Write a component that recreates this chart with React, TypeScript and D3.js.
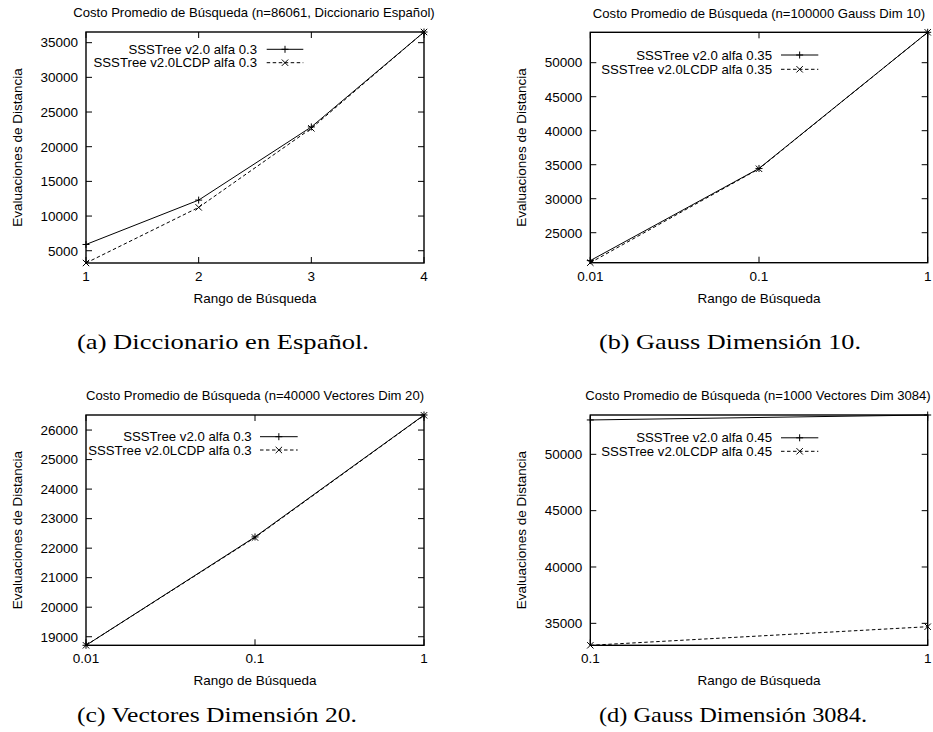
import React from "react";
import * as d3 from "d3";

const W = 933;
const H = 732;

// ---- data ----
const aX = [1, 2, 3, 4];
const aS1 = [5900, 12300, 22850, 36540];
const aS2 = [3230, 11250, 22650, 36540];
const aYTicks = [5000, 10000, 15000, 20000, 25000, 30000, 35000];
const aXTicks = [1, 2, 3, 4];

const bX = [0.01, 0.1, 1];
const bS1 = [20900, 34450, 54470];
const bS2 = [20590, 34400, 54470];
const bYTicks = [25000, 30000, 35000, 40000, 45000, 50000];
const bXTicks = [0.01, 0.1, 1];

const cX = [0.01, 0.1, 1];
const cS1 = [18710, 22380, 26510];
const cS2 = [18710, 22360, 26500];
const cYTicks = [19000, 20000, 21000, 22000, 23000, 24000, 25000, 26000];
const cXTicks = [0.01, 0.1, 1];

const dX = [0.1, 1];
const dS1 = [53050, 53490];
const dS2 = [33050, 34700];
const dYTicks = [35000, 40000, 45000, 50000];
const dXTicks = [0.1, 1];

const titles = [
  "Costo Promedio de Búsqueda (n=86061, Diccionario Español)",
  "Costo Promedio de Búsqueda (n=100000 Gauss Dim 10)",
  "Costo Promedio de Búsqueda (n=40000 Vectores Dim 20)",
  "Costo Promedio de Búsqueda (n=1000 Vectores Dim 3084)",
];
const legend1 = ["SSSTree v2.0 alfa 0.3", "SSSTree v2.0 alfa 0.35", "SSSTree v2.0 alfa 0.3", "SSSTree v2.0 alfa 0.45"];
const legend2 = ["SSSTree v2.0LCDP alfa 0.3", "SSSTree v2.0LCDP alfa 0.35", "SSSTree v2.0LCDP alfa 0.3", "SSSTree v2.0LCDP alfa 0.45"];
const captions = [
  "(a) Diccionario en Español.",
  "(b) Gauss Dimensión 10.",
  "(c) Vectores Dimensión 20.",
  "(d) Gauss Dimensión 3084.",
];
const xLabel = "Rango de Búsqueda";
const yLabel = "Evaluaciones de Distancia";

const SANS = "'Liberation Sans', Arial, sans-serif";
const SERIF = "'Liberation Serif', 'DejaVu Serif', serif";

type PanelCfg = {
  xs: number[];
  s1: number[];
  s2: number[];
  yTicks: number[];
  xTicks: number[];
  log: boolean;
  box: { l: number; r: number; t: number; b: number };
  title: string;
  titleX: number;
  leg1: string;
  leg2: string;
  legTextR: number;
  legRow1: number;
  legRow2: number;
  legSample: [number, number];
  yLabelX: number;
  caption: string;
  capX: number;
  capY: number;
  capW: number;
};

const panels: PanelCfg[] = [
  {
    xs: aX, s1: aS1, s2: aS2, yTicks: aYTicks, xTicks: aXTicks, log: false,
    box: { l: 86, r: 424, t: 32, b: 263 },
    title: titles[0], titleX: 254,
    leg1: legend1[0], leg2: legend2[0], legTextR: 257, legRow1: 49.3, legRow2: 62.7, legSample: [266.7, 303.3],
    yLabelX: 17, caption: captions[0], capX: 77, capY: 349, capW: 292,
  },
  {
    xs: bX, s1: bS1, s2: bS2, yTicks: bYTicks, xTicks: bXTicks, log: true,
    box: { l: 590.3, r: 927.7, t: 32.3, b: 262.7 },
    title: titles[1], titleX: 759,
    leg1: legend1[1], leg2: legend2[1], legTextR: 772, legRow1: 55, legRow2: 69.3, legSample: [781, 818.3],
    yLabelX: 521, caption: captions[1], capX: 599, capY: 349, capW: 262,
  },
  {
    xs: cX, s1: cS1, s2: cS2, yTicks: cYTicks, xTicks: cXTicks, log: true,
    box: { l: 86, r: 424, t: 415, b: 645.3 },
    title: titles[2], titleX: 255,
    leg1: legend1[2], leg2: legend2[2], legTextR: 251.7, legRow1: 436.7, legRow2: 450, legSample: [260, 297.7],
    yLabelX: 17, caption: captions[2], capX: 77, capY: 722, capW: 280,
  },
  {
    xs: dX, s1: dS1, s2: dS2, yTicks: dYTicks, xTicks: dXTicks, log: true,
    box: { l: 590.3, r: 927.7, t: 415, b: 645.3 },
    title: titles[3], titleX: 758,
    leg1: legend1[3], leg2: legend2[3], legTextR: 772, legRow1: 437.8, legRow2: 451.3, legSample: [781, 818.3],
    yLabelX: 521, caption: captions[3], capX: 599, capY: 722, capW: 268,
  },
];

const fmtX = (v: number) => String(v);

function Plus({ x, y, s = 3.5 }: { x: number; y: number; s?: number }) {
  return (
    <path d={`M${x - s},${y}H${x + s}M${x},${y - s}V${y + s}`} stroke="#000" strokeWidth={1} fill="none" />
  );
}
function Cross({ x, y, s = 3.2 }: { x: number; y: number; s?: number }) {
  return (
    <path d={`M${x - s},${y - s}L${x + s},${y + s}M${x - s},${y + s}L${x + s},${y - s}`} stroke="#000" strokeWidth={1} fill="none" />
  );
}

function Panel({ p }: { p: PanelCfg }) {
  const { l, r, t, b } = p.box;
  const x = p.log
    ? d3.scaleLog().domain(d3.extent(p.xs) as [number, number]).range([l, r])
    : d3.scaleLinear().domain(d3.extent(p.xs) as [number, number]).range([l, r]);
  const all = [...p.s1, ...p.s2];
  const y = d3.scaleLinear().domain(d3.extent(all) as [number, number]).range([b, t]);
  const line = d3
    .line<number>()
    .x((_, i) => x(p.xs[i]))
    .y((v) => y(v));
  const tl = 6;
  const midX = (l + r) / 2;
  const midY = (t + b) / 2;
  const FS = 13.5;
  const LFS = 13.2;
  return (
    <g>
      <text x={p.titleX} y={t - 14.8} textAnchor="middle" fontFamily={SANS} fontSize={13.1} fill="#000">
        {p.title}
      </text>
      {/* ticks */}
      {p.yTicks.map((v) => (
        <g key={"y" + v}>
          <path d={`M${l},${y(v)}h${tl}M${r},${y(v)}h${-tl}`} stroke="#000" strokeWidth={1} />
          <text x={l - 8} y={y(v) + 4.8} textAnchor="end" fontFamily={SANS} fontSize={FS} fill="#000">
            {v}
          </text>
        </g>
      ))}
      {p.xTicks.map((v) => (
        <g key={"x" + v}>
          <path d={`M${x(v)},${b}v${-tl}M${x(v)},${t}v${tl}`} stroke="#000" strokeWidth={1} />
          <text x={x(v)} y={b + 18} textAnchor="middle" fontFamily={SANS} fontSize={FS} fill="#000">
            {fmtX(v)}
          </text>
        </g>
      ))}
      <text x={midX} y={b + 40} textAnchor="middle" fontFamily={SANS} fontSize={FS} fill="#000">
        {xLabel}
      </text>
      <text
        transform={`translate(${p.yLabelX + 4.5},${midY}) rotate(-90)`}
        textAnchor="middle"
        fontFamily={SANS}
        fontSize={FS}
        fill="#000"
      >
        {yLabel}
      </text>
      {/* legend */}
      <text x={p.legTextR} y={p.legRow1 + 4.6} textAnchor="end" fontFamily={SANS} fontSize={LFS} fill="#000">
        {p.leg1}
      </text>
      <text x={p.legTextR} y={p.legRow2 + 4.6} textAnchor="end" fontFamily={SANS} fontSize={LFS} fill="#000">
        {p.leg2}
      </text>
      <path d={`M${p.legSample[0]},${p.legRow1}H${p.legSample[1]}`} stroke="#000" strokeWidth={1} />
      <Plus x={(p.legSample[0] + p.legSample[1]) / 2} y={p.legRow1} />
      <path d={`M${p.legSample[0]},${p.legRow2}H${p.legSample[1]}`} stroke="#000" strokeWidth={1} strokeDasharray="3.5,2.5" />
      <Cross x={(p.legSample[0] + p.legSample[1]) / 2} y={p.legRow2} />
      {/* series */}
      <path d={line(p.s1) || ""} fill="none" stroke="#000" strokeWidth={1} />
      <path d={line(p.s2) || ""} fill="none" stroke="#000" strokeWidth={1} strokeDasharray="3.5,2.5" />
      {p.s1.map((v, i) => (
        <Plus key={"p" + i} x={x(p.xs[i])} y={y(v)} />
      ))}
      {p.s2.map((v, i) => (
        <Cross key={"c" + i} x={x(p.xs[i])} y={y(v)} />
      ))}
      {/* frame */}
      <rect x={l} y={t} width={r - l} height={b - t} fill="none" stroke="#000" strokeWidth={1.4} />
      {/* caption */}
      <text
        x={p.capX}
        y={p.capY}
        fontFamily={SERIF}
        fontSize={22}
        textLength={p.capW}
        lengthAdjust="spacingAndGlyphs"
        fill="#000"
      >
        {p.caption}
      </text>
    </g>
  );
}

export default function App() {
  return (
    <div style={{ position: "absolute", left: 0, top: 0, width: W, height: H, background: "#fff" }}>
      <svg width={W} height={H} viewBox={`0 0 ${W} ${H}`} style={{ display: "block" }}>
        <rect width={W} height={H} fill="#fff" />
        {panels.map((p, i) => (
          <Panel key={i} p={p} />
        ))}
      </svg>
    </div>
  );
}
